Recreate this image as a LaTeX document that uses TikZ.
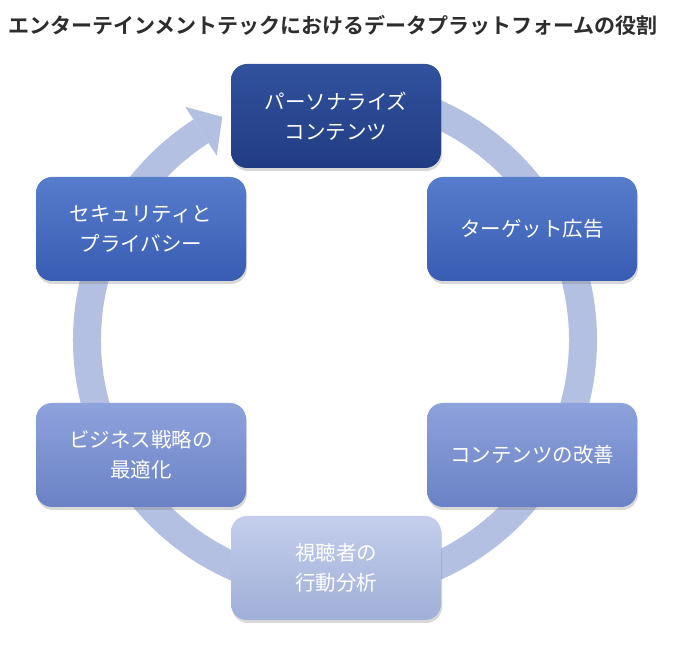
\documentclass[tikz,border=0pt]{standalone}
\usepackage{fontspec}
\newfontfamily\jp{Noto Sans CJK JP}[BoldFont={Noto Sans CJK JP Bold}]
\usetikzlibrary{shadows,calc}
\definecolor{ringc}{RGB}{180,192,226}
\definecolor{titlec}{RGB}{45,45,45}
\definecolor{aT}{RGB}{50,82,158}\definecolor{aB}{RGB}{33,60,130}
\definecolor{bT}{RGB}{88,124,204}\definecolor{bB}{RGB}{56,92,178}
\definecolor{cT}{RGB}{142,162,220}\definecolor{cB}{RGB}{106,130,197}
\definecolor{dT}{RGB}{196,206,236}\definecolor{dB}{RGB}{160,175,216}
\tikzset{
  stepbox/.style={rounded corners=16pt, minimum width=210pt, minimum height=104pt,
    align=center, text=white, font=\jp\fontsize{20.5}{30}\selectfont,
    drop shadow={shadow xshift=1pt, shadow yshift=-3pt, opacity=0.3}},
  ring/.style={draw=ringc, line width=28pt, line cap=butt}
}
\begin{document}
\begin{tikzpicture}[x=1pt,y=1pt]
\useasboundingbox (0,0) rectangle (678,645);
\fill[white] (0,0) rectangle (678,645);
\node[anchor=west, text=titlec, font=\jp\bfseries\fontsize{21}{24}\selectfont, inner sep=0pt] (title) at (8,620) {エンターテインメントテックにおけるデータプラットフォームの役割};
\coordinate (c) at (335,305);
% ring arrow
\draw[ring] (c) ++(85:248) arc[start angle=85, end angle=-237.3, radius=248];
\fill[ringc] ($(c)+(122.7:277)$) -- ($(c)+(116.8:250)$) -- ($(c)+(122.7:219)$) -- cycle;
% boxes
\node[stepbox, top color=aT, bottom color=aB] (n1) at (336,529) {パーソナライズ\\コンテンツ};
\node[stepbox, top color=bT, bottom color=bB] (n2) at (532,416) {ターゲット広告};
\node[stepbox, top color=cT, bottom color=cB] (n3) at (532,190) {コンテンツの改善};
\node[stepbox, top color=dT, bottom color=dB] (n4) at (336,77) {視聴者の\\行動分析};
\node[stepbox, top color=cT, bottom color=cB] (n5) at (141,190) {ビジネス戦略の\\最適化};
\node[stepbox, top color=bT, bottom color=bB] (n6) at (141,416) {セキュリティと\\プライバシー};
\end{tikzpicture}
\end{document}
